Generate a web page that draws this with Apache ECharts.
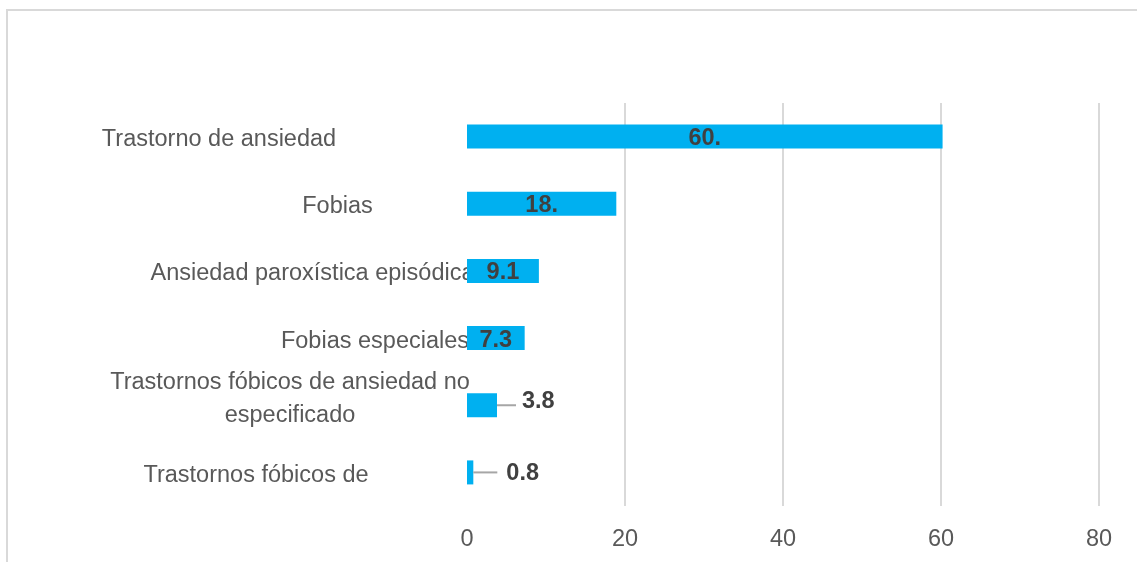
<!DOCTYPE html>
<html>
<head>
<meta charset="utf-8">
<script src="https://cdn.jsdelivr.net/npm/echarts@6/dist/echarts.min.js"></script>
<style>
  html, body { margin: 0; padding: 0; background: #fff; }
  .frame {
    position: absolute;
    left: 6px;
    top: 9px;
    width: 1200px;
    height: 600px;
    border-left: 2px solid #d9d9d9;
    border-top: 2px solid #d9d9d9;
  }
  #chart { position: absolute; left: 0; top: 0; width: 1137px; height: 562px; }
</style>
</head>
<body>
<div class="frame"></div>
<div id="chart"></div>
<script>
const categories = [
  "Trastorno de ansiedad",
  "Fobias",
  "Ansiedad paroxística episódica",
  "Fobias especiales",
  "Trastornos fóbicos de ansiedad no\nespecificado",
  "Trastornos fóbicos de",
];
const values = [60.2, 18.9, 9.1, 7.3, 3.8, 0.8];
const valueLabels = ["60.", "18.", "9.1", "7.3", "3.8", "0.8"];
const xTicks = [0, 20, 40, 60, 80];

// right padding per category label (shifts the centred text left)
const labelPad = [496, 259, 309, 184, 354, 422];
// leader line length / gap for the small bars' labels
const leader = { 4: [19, 6], 5: [24, 9] };

const FONT = "'Liberation Sans', Arial, sans-serif";

const rich = {};
labelPad.forEach((p, i) => {
  const base = {
    fontFamily: FONT,
    fontSize: 23.5,
    color: "#595959",
    lineHeight: 33,
  };
  rich["c" + i] = Object.assign({}, base, { padding: [0, p, 0, 0] });
  rich["s" + i] = Object.assign({}, base, { padding: [6, p, 0, 0] });
  rich["sp" + i] = { height: 12, lineHeight: 12, fontSize: 1, padding: [0, p, 0, 0] };
});

function catLabel(v, i) {
  const lines = v.split("\n");
  if (lines.length === 1) return "{s" + i + "|" + v + "}";
  // multi-line: extra thin spacer line lifts the block a little
  return lines.map((line) => "{c" + i + "|" + line + "}").join("\n") + "\n{sp" + i + "| }";
}

const chart = echarts.init(document.getElementById("chart"));

chart.setOption({
  animation: false,
  grid: { left: 467, right: 38, top: 103, bottom: 56, containLabel: false },
  xAxis: {
    type: "value",
    min: xTicks[0],
    max: xTicks[xTicks.length - 1],
    interval: 20,
    axisLine: { show: false },
    axisTick: { show: false },
    axisLabel: {
      margin: 22,
      fontFamily: FONT,
      fontSize: 23.5,
      color: "#595959",
    },
    splitLine: {
      showMinLine: false,
      lineStyle: { color: "#d9d9d9", width: 2 },
    },
  },
  yAxis: {
    type: "category",
    inverse: true,
    data: categories,
    axisLine: { show: false },
    axisTick: { show: false },
    axisLabel: {
      interval: 0,
      margin: 0,
      align: "center",
      formatter: catLabel,
      rich: rich,
    },
  },
  series: [
    {
      type: "bar",
      barWidth: 24,
      itemStyle: { color: "#00b0f0" },
      data: values.map((v, i) => {
        const ld = leader[i];
        return {
          value: v,
          label: ld
            ? {
                show: true,
                position: "right",
                distance: 0,
                formatter: "{ln|}{v|" + valueLabels[i] + "}",
                rich: {
                  ln: { width: ld[0], height: 2, backgroundColor: "#a6a6a6" },
                  v: {
                    fontFamily: FONT,
                    fontSize: 23.5,
                    fontWeight: "bold",
                    color: "#404040",
                    padding: i === 4 ? [0, 0, 8, ld[1]] : [2, 0, 0, ld[1]],
                  },
                },
              }
            : {
                show: true,
                position: "inside",
                offset: [0, 2],
                formatter: valueLabels[i],
                fontFamily: FONT,
                fontSize: 23.5,
                fontWeight: "bold",
                color: "#404040",
              },
        };
      }),
    },
  ],
});
</script>
</body>
</html>
